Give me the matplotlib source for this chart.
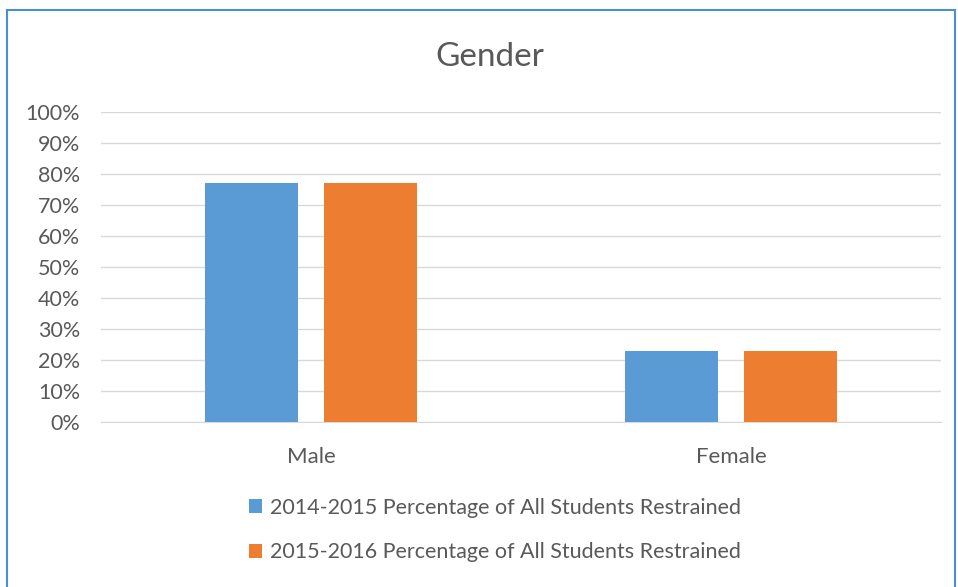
import numpy as np
import matplotlib
matplotlib.use("Agg")
import matplotlib.pyplot as plt
from matplotlib.patches import Rectangle
from matplotlib.ticker import PercentFormatter

categories = ["Male", "Female"]
series_names = ["2014-2015 Percentage of All Students Restrained",
                "2015-2016 Percentage of All Students Restrained"]
pct_2014_2015 = [77, 23]
pct_2015_2016 = [77, 23]
y_ticks = [0, 10, 20, 30, 40, 50, 60, 70, 80, 90, 100]

blue = "#5B9BD5"
orange = "#ED7D31"
grey_text = "#595959"
grid_col = "#D9D9D9"

plt.rcParams["font.family"] = ["Lato", "DejaVu Sans"]

fig = plt.figure(figsize=(9.58, 5.87), dpi=100)
ax = fig.add_axes([101 / 958, 1 - 422 / 587, 840 / 958, 310.3 / 587])

x = np.arange(len(categories))
w = 0.222
off = 0.1417
ax.bar(x - off, pct_2014_2015, w, color=blue, label=series_names[0], zorder=3)
ax.bar(x + off, pct_2015_2016, w, color=orange, label=series_names[1], zorder=3)

ax.set_xlim(-0.5, 1.5)
ax.set_ylim(0, 100)
ax.set_yticks(y_ticks)
ax.yaxis.set_major_formatter(PercentFormatter(decimals=0))
ax.set_xticks(x)
ax.set_xticklabels(categories)
ax.tick_params(axis="y", length=0, pad=15, labelsize=15.5, labelcolor=grey_text)
ax.tick_params(axis="x", length=0, pad=18, labelsize=16, labelcolor=grey_text)
ax.grid(axis="y", color=grid_col, lw=1, zorder=0)
for s in ["top", "right", "left"]:
    ax.spines[s].set_visible(False)
ax.spines["bottom"].set_color(grid_col)

fig.text(490 / 958, 1 - 57 / 587, "Gender", ha="center", va="center",
         fontsize=24, color=grey_text)

fig.legend(loc="center", bbox_to_anchor=(495 / 958, 1 - 530 / 587),
           frameon=False, fontsize=15.5, labelcolor=grey_text,
           handlelength=0.6, handleheight=0.6, handletextpad=0.35,
           labelspacing=1.15)

# blue frame around the chart
fig.patches.append(Rectangle((7 / 958, -0.01), 948 / 958, 1 - 10 / 587 + 0.01,
                             transform=fig.transFigure, fill=False,
                             edgecolor="#4A8FD6", lw=1.5))

fig.savefig("out.png", dpi=100)
